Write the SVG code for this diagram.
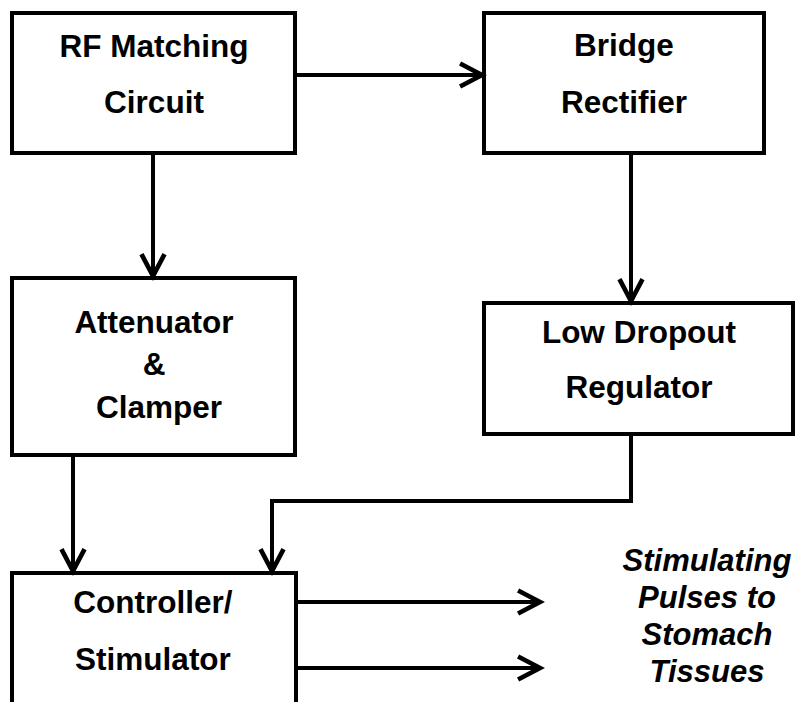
<svg xmlns="http://www.w3.org/2000/svg" width="798" height="702" viewBox="0 0 798 702">
<defs>
<style>
.box{fill:#fff;stroke:#000;stroke-width:4}
.lbl{font-family:"Liberation Sans",Arial,sans-serif;font-weight:bold;font-size:31.5px;fill:#000;text-anchor:middle}
.out{font-family:"Liberation Sans",Arial,sans-serif;font-weight:bold;font-style:italic;font-size:31px;fill:#000;text-anchor:middle}
.wire{fill:none;stroke:#000;stroke-width:4}
</style>
<marker id="arr" markerUnits="userSpaceOnUse" markerWidth="30" markerHeight="30" viewBox="-22 -13 26 26" refX="0" refY="0" orient="auto">
<path d="M-19,-10 L0,0 L-19,10" fill="none" stroke="#000" stroke-width="4"/>
</marker>
</defs>
<rect width="798" height="702" fill="#fff"/>
<g id="rf">
<rect class="box" x="12" y="13" width="283" height="140"/>
<text class="lbl" x="154" y="57">RF Matching</text>
<text class="lbl" x="154" y="113">Circuit</text>
</g>
<g id="bridge">
<rect class="box" x="484" y="13" width="280" height="140"/>
<text class="lbl" x="624" y="56">Bridge</text>
<text class="lbl" x="624" y="113">Rectifier</text>
</g>
<g id="atten">
<rect class="box" x="12" y="278" width="283" height="177"/>
<text class="lbl" x="154" y="333">Attenuator</text>
<text class="lbl" x="154" y="375">&amp;</text>
<text class="lbl" x="159" y="418">Clamper</text>
</g>
<g id="ldo">
<rect class="box" x="484" y="303" width="309" height="131"/>
<text class="lbl" x="639" y="343">Low Dropout</text>
<text class="lbl" x="639" y="398">Regulator</text>
</g>
<g id="ctrl">
<rect class="box" x="12" y="573" width="284" height="140"/>
<text class="lbl" x="153" y="613">Controller/</text>
<text class="lbl" x="153" y="670">Stimulator</text>
</g>
<g id="output">
<text class="out" x="707" y="571">Stimulating</text>
<text class="out" x="707" y="608">Pulses to</text>
<text class="out" x="707" y="645">Stomach</text>
<text class="out" x="707" y="682">Tissues</text>
</g>
<g id="connectors">
<path class="wire" d="M295,75 H482" marker-end="url(#arr)"/>
<path class="wire" d="M153,153 V276" marker-end="url(#arr)"/>
<path class="wire" d="M631,153 V301" marker-end="url(#arr)"/>
<path class="wire" d="M73,455 V571" marker-end="url(#arr)"/>
<path class="wire" d="M631,434 V501 H272 V571" marker-end="url(#arr)"/>
<path class="wire" d="M296,602 H540" marker-end="url(#arr)"/>
<path class="wire" d="M296,668 H540" marker-end="url(#arr)"/>
</g>
</svg>
